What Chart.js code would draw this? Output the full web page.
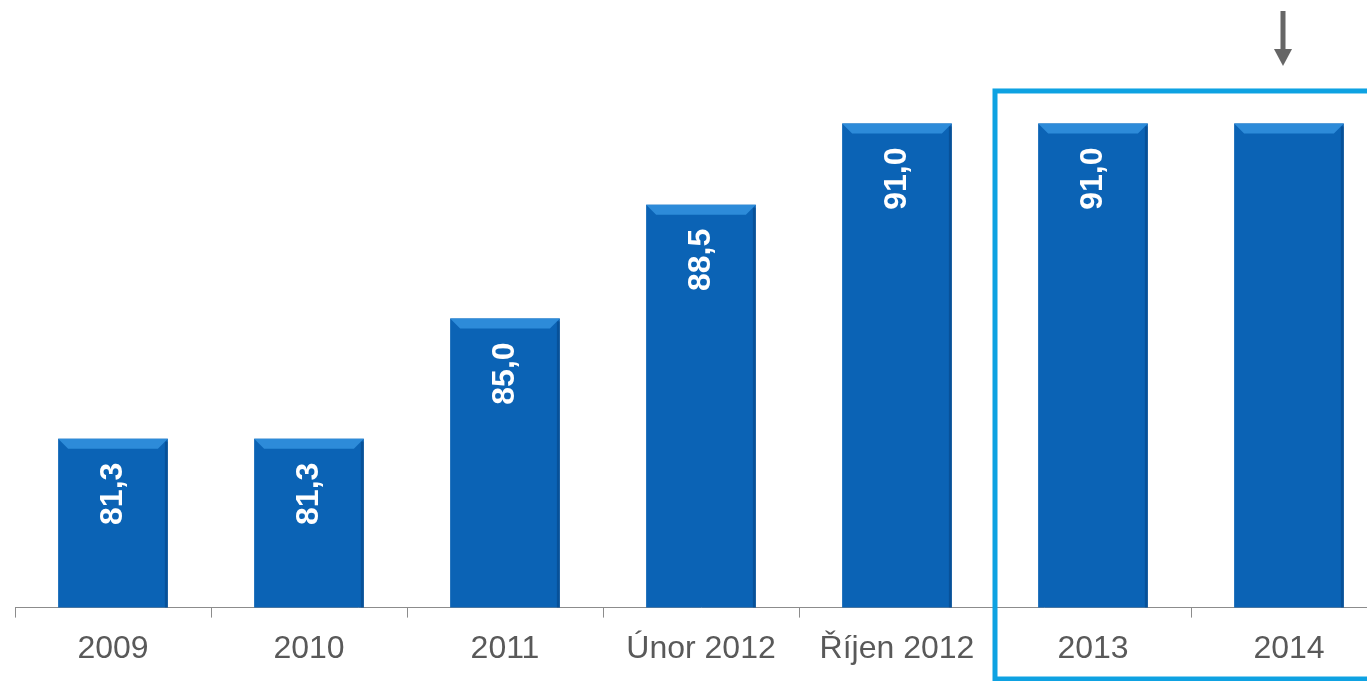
<!DOCTYPE html>
<html>
<head>
<meta charset="utf-8">
<script src="https://cdn.jsdelivr.net/npm/chart.js@4/dist/chart.umd.min.js"></script>
<style>
  html, body { margin: 0; padding: 0; background: #fff; overflow: hidden; }
  #wrap { width: 1387px; height: 681px; position: relative; }
</style>
</head>
<body>
<div id="wrap"><canvas id="barChart"></canvas></div>
<script>
// categories + values
const periods = ["2009", "2010", "2011", "Únor 2012", "Říjen 2012", "2013", "2014"];
const values = [81.3, 81.3, 85.0, 88.5, 91.0, 91.0, 91.0];
const showLabel = [true, true, true, true, true, true, false];

// highlighted box starts at this category, top at this value
const boxFrom = 5;
const boxTop = 92.0;
const arrowAt = 6;

const barFill = "#0b63b5";
const bevelFill = "#2d8bd9";

// lighter bevel on top of each bar
const bevelPlugin = {
  id: "bevel",
  afterDatasetsDraw(chart) {
    const ctx = chart.ctx;
    const bottom = chart.chartArea.bottom;
    chart.getDatasetMeta(0).data.forEach(function (bar) {
      const l = bar.x - bar.width / 2, r = bar.x + bar.width / 2, t = bar.y;
      ctx.save();
      ctx.fillStyle = bevelFill;
      ctx.beginPath();
      ctx.moveTo(l, t);
      ctx.lineTo(r, t);
      ctx.lineTo(r - 10, t + 10);
      ctx.lineTo(l + 10, t + 10);
      ctx.closePath();
      ctx.fill();
      ctx.fillStyle = "rgba(0,40,90,0.3)";
      ctx.fillRect(r - 3, t + 3, 3, bottom - t - 3);
      ctx.restore();
    });
  }
};

// rotated value labels inside bars
const labelPlugin = {
  id: "valueLabels",
  afterDatasetsDraw(chart) {
    const ctx = chart.ctx;
    chart.getDatasetMeta(0).data.forEach(function (bar, i) {
      if (!showLabel[i]) return;
      const txt = values[i].toFixed(1).replace(".", ",");
      ctx.save();
      ctx.translate(bar.x, bar.y + 24);
      ctx.rotate(-Math.PI / 2);
      ctx.font = "bold 32px 'Liberation Sans', Arial, sans-serif";
      ctx.fillStyle = "#ffffff";
      ctx.textAlign = "right";
      ctx.textBaseline = "middle";
      ctx.fillText(txt, 0, 0);
      ctx.restore();
    });
  }
};

// blue frame round the last two years and the arrow above 2014
const markPlugin = {
  id: "marks",
  afterDraw(chart) {
    const ctx = chart.ctx;
    const x = chart.scales.x, y = chart.scales.y;
    const half = (x.getPixelForValue(1) - x.getPixelForValue(0)) / 2;
    const left = x.getPixelForValue(boxFrom) - half;
    const top = y.getPixelForValue(boxTop);
    ctx.save();
    ctx.strokeStyle = "#0ea2e2";
    ctx.lineWidth = 5;
    ctx.strokeRect(left, top, chart.width - left + 10, chart.height - top - 2);

    const ax = x.getPixelForValue(arrowAt) - 6;
    ctx.fillStyle = "#666666";
    ctx.fillRect(ax - 2.5, 11, 5, 40);
    ctx.beginPath();
    ctx.moveTo(ax - 9, 49);
    ctx.lineTo(ax + 9, 49);
    ctx.lineTo(ax, 66);
    ctx.closePath();
    ctx.fill();
    ctx.restore();
  }
};

new Chart("barChart", {
  type: "bar",
  data: {
    labels: periods,
    datasets: [{
      data: values,
      backgroundColor: barFill,
      borderWidth: 0,
      barPercentage: 0.56,
      categoryPercentage: 1.0
    }]
  },
  options: {
    responsive: true,
    maintainAspectRatio: false,
    animation: false,
    layout: { padding: { left: 15, right: 0, top: 0, bottom: 1 } },
    plugins: {
      legend: { display: false },
      tooltip: { enabled: false }
    },
    scales: {
      x: {
        grid: {
          display: true,
          drawOnChartArea: false,
          drawTicks: true,
          tickLength: 10,
          color: "#8c8c8c",
          offset: true
        },
        border: { display: true, color: "#8c8c8c", width: 1 },
        ticks: {
          color: "#595959",
          padding: 12,
          font: { family: "'Liberation Sans', Arial, sans-serif", size: 32 },
          maxRotation: 0,
          autoSkip: false
        }
      },
      y: {
        display: false,
        min: 76.1,
        max: 94.8
      }
    }
  },
  plugins: [bevelPlugin, labelPlugin, markPlugin]
});
</script>
</body>
</html>
